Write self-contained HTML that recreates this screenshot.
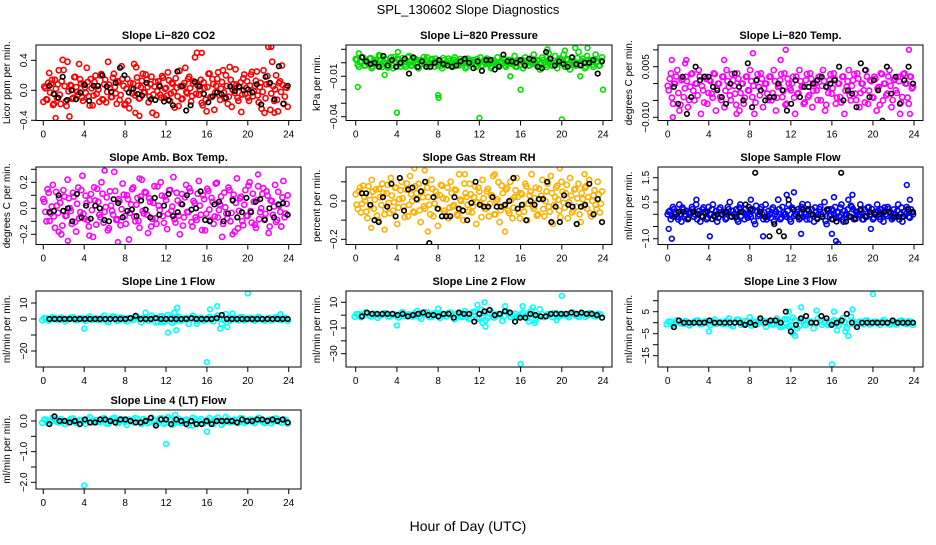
<!DOCTYPE html>
<html><head><meta charset="utf-8"><style>
body{margin:0;background:#fff}
svg text{font-family:"Liberation Sans",sans-serif}
</style></head><body>
<svg id="c" width="936" height="540" viewBox="0 0 936 540" xmlns="http://www.w3.org/2000/svg">
<rect width="936" height="540" fill="#fff"/>
<text x="468" y="14" font-size="13" text-anchor="middle">SPL_130602  Slope Diagnostics</text>
<text x="468" y="531" font-size="14" text-anchor="middle">Hour of Day (UTC)</text>
</svg>
<script>
const xTicks=[0,4,8,12,16,20,24];
// CO2 (units 0.01)
const co2Values=[5,-12,10,-3,14,-18,2,8,-6,12,27,-15,38,-35,6,-10,18,-2,35,9,-14,4,30,-8,15,-20,11,-5,1,20,-12,8,-16,38,3,-9,22,-4,12,-13,32,6,-18,15,-24,2,9,-7,17,-11,4,22,-3,14,-16,8,-30,5,-33,12,-6,19,-10,3,24,-14,10,-2,16,-8,26,-12,6,30,-4,18,-15,9,44,50,-6,14,-20,3,-28,22,-9,15,-26,6,24,-13,11,-3,20,-18,31,-22,8,28,-10,4,-29,16,-5,12,-14,21,-8,6,25,-16,10,-2,-30,8,58,-26,38,-14,20,-28,12,33,-18,4,-22];
const co2Black=[6,-5,-10,18,-13,0,-12,-3,7,-14,6,6,20,5,-2,10,30,20,-3,2,-5,-7,10,-12,-13,5,-15,-13,-20,25,5,-27,-20,11,5,-5,-16,-8,-3,-5,-10,5,-1,5,0,1,-3,8,-19,18,10,-12,32,-18,6];
const co2OutHours=[1.2,9,9.4,15.5,22.3,22.6];
const co2OutValues=[-37,-30,-34,50,58,-30];
// Pressure (units 0.001)
const presValues=[2,-3,1,4,-2,0,3,-4,1,2,-1,5,-3,0,2,-2,4,-4,1,3,-1,0,2,-3,4,1,-2,3,0,-4,2,1,-1,4,-3,2,0,3,-2,1,-4,2,0,3,-1,-3,4,1,-2,0,2,-4,3,1,-1,2,-3,0,4,-2,1,3,-1,-4,2,0,4,-2,1,3,-3,2,0,-1,5,-3,2,1,-4,4,0,-2,3,6,-1,2,-5,4,0,-3,7,1,-2,5,-4,3,0,6,-3,2,-5,4,1,-2,8,-1,3,-4,5,0,2,-3,6,1,-2,4];
const presBlack=[4,1,-1,0,-3,5,-2,2,-3,0,3,-8,4,-3,1,-3,-3,0,2,-1,-2,-3,-2,1,3,0,-4,1,-6,2,2,-5,-3,6,1,1,0,2,-2,3,2,-3,-4,8,3,-2,1,-1,-3,4,-1,-2,0,0,2,-8,1];
const presOutHours=[0.2,0.3,2.8,4,4.1,8,8.05,12,15,16,18.6,20,20.3,21.3,22.5,24,21.8];
const presOutValues=[-18,7,-9,-37,8,-24,-26,-41,-10,-20,10,-42,9,11,11,-20,-10];
// Li-820 temp (units 0.001)
const tempValues=[-2,3,-6,0,4,-8,1,-4,2,-7,-1,3,-5,0,4,-9,-2,2,-6,1,-3,3,-8,0,-4,2,-7,4,-1,-5,1,-3,3,-8,0,-6,2,-2,4,-4,-9,1,-1,3,-7,0,-3,2,-5,4,-8,-1,1,-4,3,-6,0,-2,2,-9,-3,4,-1,-6,1,-4,3,-7,0,-2,2,-5,4,-8,-1,1,-3,3,-6,0,-4,2,-9,-1,4,-5,1,-3,3,-7,0,-2,4,-6,1,-4,2,-8,-1,3,-5,0,-3,4,-7,1,-2,2,-9,-4,3,0,-6,2,-1];
const tempBlack=[-1,-6,2,-9,-4,5,1,2,2,-1,-2,-4,-6,0,3,-1,-5,6,-7,1,-2,-5,-4,-4,0,-2,-8,-6,1,-4,-1,-1,0,1,2,-1,0,1,5,-5,-2,-3,-7,6,4,-4,1,-2,-11,5,-3,2,-6,1,5,0];
const tempOutHours=[0.5,0.4,1.7,1.8,5.5,8.3,11,11.5,23.5,23.6,6.7];
const tempOutValues=[-10,7,6,7,7,9,7,10,10,-9,-9];
// Amb box temp (units 0.01)
const ambValues=[5,-10,12,-4,18,-15,2,8,-20,14,-6,22,0,-12,9,-18,16,-3,25,-8,4,-14,11,-22,6,15,-5,20,-11,1,-17,13,-2,28,-9,7,-13,19,-6,10,-24,3,16,-10,8,-15,22,-4,12,-19,5,-8,17,-12,2,20,-6,9,-16,14,-2,24,-11,6,-20,11,-7,18,-3,13,-14,4,-9,21,-5,10,-17,15,-1,8,-12,19,-7,3,-22,12,-4,16,-10,7,-18,23,-2,9,-13,14,-6,20,-11,5,-15,17,-3,11,-8,13,-19,6,-5,18,-9,2,-14,21,-4,10];
const ambBlack=[-3,-2,10,-2,0,-10,11,-7,2,-8,2,0,-9,-10,7,4,-7,-2,-1,-6,6,-1,-7,8,-5,2,11,-6,-3,3,10,-1,0,13,-9,-10,3,5,-10,-4,6,-7,-3,8,-3,5,7,-9,0,-7,3,4,-5];
const ambOutHours=[6,2.4,7.3,9.4,21,1.5,4.5,18.5];
const ambOutValues=[29,-25,-26,23,26,-18,-21,-20];
// RH (units 0.01)
const rhValues=[-2,5,-6,8,0,-9,3,11,-4,6,-10,2,9,-7,4,-1,12,-5,7,-12,1,10,-3,6,-8,13,0,-6,4,9,-11,2,-4,7,-2,11,-8,5,-13,3,8,-5,1,-9,10,-3,6,-7,14,0,-10,4,-2,9,-6,2,-12,7,-1,11,-4,5,-8,3,13,-7,1,-11,8,-3,6,-5,10,-9,2,12,-6,4,-2,9,-10,3,14,-4,7,-7,1,11,-8,5,-3,13,-12,2,8,-5,10,-1,4,-9,12,-6,6,-3,9,-11,1,7,-4,11,-8,3,-2,10,-6,5];
const rhBlack=[4,4,-2,-10,-11,2,-3,9,-8,12,-5,6,7,1,5,10,-22,2,-4,-8,-8,-8,2,-4,-5,-10,-1,10,-2,-3,-3,2,-3,-3,-2,0,12,-4,-2,-10,0,-2,1,1,10,-11,-3,-11,3,-2,-3,-12,-3,-2,9,-7,1,-11];
const rhOutHours=[1.5,2.8,7,5.7,6.7,10.6,13.5,19.8,22.2,14.5];
const rhOutValues=[-14,-15,-16,17,16,14,14,17,14,-16];
// Sample flow (units 0.1 ml/min)
const sampValues=[1,-2,3,0,-1,4,-3,2,0,-2,1,3,-1,4,0,-3,2,1,-2,3,0,4,-1,-3,2,0,1,-2,3,5,-1,0,2,-3,4,1,-2,0,3,-1,2,-4,1,0,3,-2,4,-1,0,2,-3,1,6,-2,3,0,-1,4,-3,2,0,1,-2,3,-1,0,4,-2,2,-3,1,0,3,-1,5,-4,2,0,-2,3,1,-1,4,-3,0,2,-1,3,-2,1,0,4,-2,2,-1,3,0,-2,1,4,-1,2,-3,0,3,1,-2,2,-1,4,0,-3,1,3,-1,2,0];
const sampBlack=[-1,1,1,-2,1,0,-1,1,-2,0,0,1,-1,-1,1,4,2,17,1,-1,-9,-4,-7,-9,6,2,-1,2,2,0,-2,-1,2,-2,-3,17,-3,-1,-2,2,-1,1,0,0,1,1,-1,-1,-1,2,1];
const sampOutHours=[0.1,0.4,2.8,4.1,8.1,9.3,11.6,12.3,13,16,16.2,16.4,16.6,17.6,18,23.3,23.6,19.8];
const sampOutValues=[-6,-10,6,-9,6,-9,8,9,-8,-8,7,-11,-12,6,8,12,6,-6];
// Line 1 flow (ml/min)
const l1Values=[0.5,-1,1.2,-0.3,0.8,-1.4,0.2,1,-0.7,0.4,-1.2,1.5,0,-0.5,0.9,-1,0.3,1.3,-0.8,0.6,-1.5,0.1,1.1,-0.4,0.7,-0.9,2,-2,1.5,-1.8,2.5,-2.5,1,-1.2,0.5,-3,2,-1,0.8,-0.6,1.2,-1.5,2.2,-2.8,3,-1,0.5,-0.8,1.1,-0.3,0.6,-1,1.3,-0.5,0.2,-0.9,1,-0.4,0.7,-1.1];
const l1Black=[0,0,0,0,0,0,0,0,0,0,0,0,0,0,0,0,0.5,2,0,0,0,0.5,0,0,0,0,0,0,0.5,0,0,0,0,0.5,2.5,0,0,0,0,0,0,0,0,0,0,0,0,0];
const l1OutHours=[4,10,12.2,13,13.1,12.8,15,16,16.3,17,17.3,18,18.5,20,11.5,23.2];
const l1OutValues=[-6,4,-8.5,-7,7,4,-3,-27,6,8,-6,-5,3.5,16,-2,3];
// Line 2 flow
const l2Values=[0.8,-1.5,1.9,-0.5,1.2,-2,0.3,1.6,-1,0.6,-1.8,2.2,0,-0.8,1.4,-1.5,0.5,2,-1.2,0.9,-2.2,0.2,1.7,-0.6,1,-1.4,3,-3,2.5,-2.8,4,-4,1.5,-1.8,0.8,-4.5,3,-1.5,1.2,-1,1.8,-2.2,3.5,-4,4.5,-1.5,0.8,-1.2,1.6,-0.5,0.9,-1.5,2,-0.8,0.3,-1.4,1.5,-0.6,1,-1.6];
const l2Black=[-1,2,1,1,1,1,1,0,1,-1,0,1,2,0,0,-1,1,1,-2,2,1,1,-5,1,3,4,0,1,3,2,-5,-2,-2,1,0,-1,-1,1,1,1,1,2,1,2,1,1,0,-2];
const l2OutHours=[4,8,11.8,12.5,12.6,12.3,14.5,16,16.2,17.2,17.4,16.8,20,19.5];
const l2OutValues=[-8,5,8,10,-9,-6,7,-38,7,6,-6,-5,15,-4];
// Line 3 flow
const l3Values=[0.5,-0.9,1.1,-0.3,0.7,-1.2,0.2,1,-0.6,0.4,-1.1,1.3,0,-0.5,0.8,-0.9,0.3,1.2,-0.7,0.5,-1.3,0.1,1,-0.4,0.6,-0.8,1.8,-2,1.5,-1.6,2.2,-2.4,0.9,-1.1,0.5,-2.6,1.8,-0.9,0.7,-0.6,1.1,-1.3,2,-2.4,2.6,-0.9,0.5,-0.7,1,-0.3,0.5,-0.9,1.2,-0.5,0.2,-0.8,0.9,-0.4,0.6,-1];
const l3Black=[-2,1,0,0,0,0,0,1,0,0,0,0,0,0,-1,0,-1,2,0,1,1,0,5,-4,-1,2,3,0,0,3,2,-1,0,1,4,0,-2,0,0,0,0,0,0,1,0,0,0,0];
const l3OutHours=[4,8,11.8,12.2,12.4,13,14.5,16,16.2,16.5,17.3,17.6,18,20];
const l3OutValues=[-4,2.5,5,-5,-6,7,5.5,-19,5,-3.5,-4,-6,6,13];
// Line 4 flow
const l4Values=[0.05,-0.08,0.1,-0.02,0.06,-0.1,0.02,0.08,-0.05,0.03,-0.09,0.12,0,-0.04,0.07,-0.08,0.02,0.1,-0.06,0.05,-0.12,0.01,0.09,-0.03,0.06,-0.07,0.1,-0.1,0.08,-0.09,0.12,-0.12,0.05,-0.06,0.03,-0.14,0.1,-0.05,0.06,-0.04,0.09,-0.1,0.11,-0.12,0.13,-0.05,0.04,-0.06,0.08,-0.02,0.05,-0.07,0.1,-0.04,0.02,-0.07,0.08,-0.03,0.05,-0.08];
const l4Black=[-0.1,0.15,0,0,-0.05,0,-0.1,0.05,-0.05,-0.05,0.05,0.05,0,-0.05,0.05,0.05,0,-0.05,-0.05,0,0.1,-0.15,0.05,0.05,-0.1,0.05,0,-0.1,0,-0.1,-0.1,0,-0.1,0,0,0,0,-0.05,0.05,0,0,0.05,0.05,0,0.05,0,0.05,-0.05];
const l4OutHours=[4,12,16,12.9,14.6];
const l4OutValues=[-2.1,-0.75,-0.35,0.2,-0.15];

const C=document.getElementById('c');
const NS='http://www.w3.org/2000/svg';
function mk(tag,attrs){const e=document.createElementNS(NS,tag);for(const k in attrs)e.setAttribute(k,attrs[k]);C.appendChild(e);return e;}
const cols=[{L:36,R:301,x0:43.3,x24:288.7},{L:346,R:612,x0:355.7,x24:603},{L:658,R:923,x0:667.7,x24:914}];
const rows=[{T:45,B:120.5},{T:167,B:244.5},{T:291,B:367},{T:410,B:489}];
const panels=[
 {id:'co2',t:'Slope Li\u2212820 CO2',yl:'Licor ppm per min.',c:0,r:0,sc:0.01,v0:0,p0:90.3,v1:0.4,p1:60.3,ticks:[-0.4,0,0.4],labs:['\u22120.4','0.0','0.4'],col:'#ff0000',vals:co2Values,blk:co2Black,oh:co2OutHours,ov:co2OutValues},
 {id:'pressure',t:'Slope Li\u2212820 Pressure',yl:'kPa per min.',c:1,r:0,sc:0.001,v0:-0.04,p0:116.7,v1:0.01,p1:49.3,ticks:[-0.04,-0.03,-0.02,-0.01,0,0.01],labs:['\u22120.04','','','\u22120.01','',''],col:'#00e000',vals:presValues,blk:presBlack,oh:presOutHours,ov:presOutValues},
 {id:'li820-temp',t:'Slope Li\u2212820 Temp.',yl:'degrees C per min.',c:2,r:0,sc:0.001,v0:-0.01,p0:117.3,v1:0.005,p1:66.7,ticks:[-0.01,-0.005,0,0.005,0.01],labs:['\u22120.010','','','0.005',''],col:'#ff00ff',vals:tempValues,blk:tempBlack,oh:tempOutHours,ov:tempOutValues},
 {id:'amb-box-temp',t:'Slope Amb. Box Temp.',yl:'degrees C per min.',c:0,r:1,sc:0.01,v0:0,p0:208.3,v1:0.2,p1:182.3,ticks:[-0.2,-0.1,0,0.1,0.2,0.3],labs:['\u22120.2','','0.0','','0.2',''],col:'#ff00ff',vals:ambValues,blk:ambBlack,oh:ambOutHours,ov:ambOutValues},
 {id:'gas-stream-rh',t:'Slope Gas Stream RH',yl:'percent per min.',c:1,r:1,sc:0.01,v0:0,p0:201,v1:-0.2,p1:239.3,ticks:[-0.2,-0.1,0,0.1],labs:['\u22120.2','','0.0',''],col:'#ffb000',vals:rhValues,blk:rhBlack,oh:rhOutHours,ov:rhOutValues},
 {id:'sample-flow',t:'Slope Sample Flow',yl:'ml/min per min.',c:2,r:1,sc:0.1,v0:0,p0:214.3,v1:1.5,p1:177.7,ticks:[-1,-0.5,0,0.5,1,1.5],labs:['\u22121.0','','','0.5','','1.5'],col:'#0000ff',vals:sampValues,blk:sampBlack,oh:sampOutHours,ov:sampOutValues},
 {id:'line1-flow',t:'Slope Line 1 Flow',yl:'ml/min per min.',c:0,r:2,sc:1,v0:0,p0:319,v1:10,p1:303,ticks:[-20,-10,0,10],labs:['\u221220','','0','10'],col:'#00ffff',vals:l1Values,blk:l1Black,oh:l1OutHours,ov:l1OutValues},
 {id:'line2-flow',t:'Slope Line 2 Flow',yl:'ml/min per min.',c:1,r:2,sc:1,v0:-10,p0:328,v1:10,p1:302.3,ticks:[-30,-20,-10,0,10],labs:['\u221230','','\u221210','','10'],col:'#00ffff',vals:l2Values,blk:l2Black,oh:l2OutHours,ov:l2OutValues},
 {id:'line3-flow',t:'Slope Line 3 Flow',yl:'ml/min per min.',c:2,r:2,sc:1,v0:0,p0:322.7,v1:5,p1:311.7,ticks:[-15,-10,-5,0,5,10],labs:['\u221215','','\u22125','','5',''],col:'#00ffff',vals:l3Values,blk:l3Black,oh:l3OutHours,ov:l3OutValues},
 {id:'line4-flow',t:'Slope Line 4 (LT) Flow',yl:'ml/min per min.',c:0,r:3,sc:1,v0:0,p0:421,v1:-2,p1:482.3,ticks:[-2,-1.5,-1,-0.5,0],labs:['\u22122.0','','\u22121.0','','0.0'],col:'#00ffff',vals:l4Values,blk:l4Black,oh:l4OutHours,ov:l4OutValues}
];
panels.forEach(p=>{
 const cc=cols[p.c],rr=rows[p.r];
 const xs=h=>cc.x0+(h/24)*(cc.x24-cc.x0);
 const ys=v=>p.p0+(v-p.v0)/(p.v1-p.v0)*(p.p1-p.p0);
 const g=mk('g',{});
 
 
 const cp=mk('clipPath',{id:'cp-'+p.id});
 cp.appendChild(document.createElementNS(NS,'rect'));
 cp.firstChild.setAttribute('x',cc.L);cp.firstChild.setAttribute('y',rr.T);cp.firstChild.setAttribute('width',cc.R-cc.L);cp.firstChild.setAttribute('height',rr.B-rr.T);
 const pts=mk('g',{'clip-path':'url(#cp-'+p.id+')'});
 
 
 const dot=(h,v,col,r)=>{const e=document.createElementNS(NS,'circle');e.setAttribute('cx',xs(h).toFixed(1));e.setAttribute('cy',ys(v).toFixed(1));e.setAttribute('r',r);e.setAttribute('fill','none');e.setAttribute('stroke',col);e.setAttribute('stroke-width',1.6);
  
  
  pts.appendChild(e);};
 const n=p.vals.length;
 p.vals.forEach((v,i)=>dot(0.1+i*23.8/(n-1),v*p.sc,p.col,2.6));
 p.vals.forEach((v,i)=>dot(23.9-(i+0.5)*23.8/(n-1),v*0.7*p.sc,p.col,2.6));
 p.oh.forEach((h,i)=>dot(h,p.ov[i]*p.sc,p.col,2.4));
 const m=p.blk.length;
 p.blk.forEach((v,i)=>dot(0.6+i*23.3/(m-1),v*p.sc,'#000',2.3));
 const box=mk('rect',{x:cc.L,y:rr.T,width:cc.R-cc.L,height:rr.B-rr.T,fill:'none',stroke:'#000','stroke-width':1});
 
 
 const tt=mk('text',{x:(cc.L+cc.R)/2,y:rr.T-6,'font-size':11,'font-weight':'bold','text-anchor':'middle'});
 tt.textContent=p.t;
 
 
 mk('line',{x1:cc.x0,x2:cc.x24,y1:rr.B,y2:rr.B,stroke:'#000'});
 xTicks.forEach(h=>{mk('line',{x1:xs(h),x2:xs(h),y1:rr.B,y2:rr.B+5,stroke:'#000'});
  const t=mk('text',{x:xs(h),y:rr.B+17,'font-size':10,'text-anchor':'middle'});t.textContent=h;
  
  });
 const yt=p.ticks.map(ys);
 mk('line',{x1:cc.L,x2:cc.L,y1:Math.min(...yt),y2:Math.max(...yt),stroke:'#000'});
 p.ticks.forEach((v,i)=>{const y=ys(v);mk('line',{x1:cc.L-5,x2:cc.L,y1:y,y2:y,stroke:'#000'});
  if(p.labs[i]){const t=mk('text',{x:cc.L-9,y:y,'font-size':10,'text-anchor':'middle',transform:'rotate(-90 '+(cc.L-9)+' '+y+')'});t.textContent=p.labs[i];
  
  }});
 const yx=cc.L-26,ym=(rr.T+rr.B)/2;
 const yl=mk('text',{x:yx,y:ym,'font-size':10,'text-anchor':'middle',transform:'rotate(-90 '+yx+' '+ym+')'});
 yl.textContent=p.yl;
 
 
});
</script>
</body></html>
